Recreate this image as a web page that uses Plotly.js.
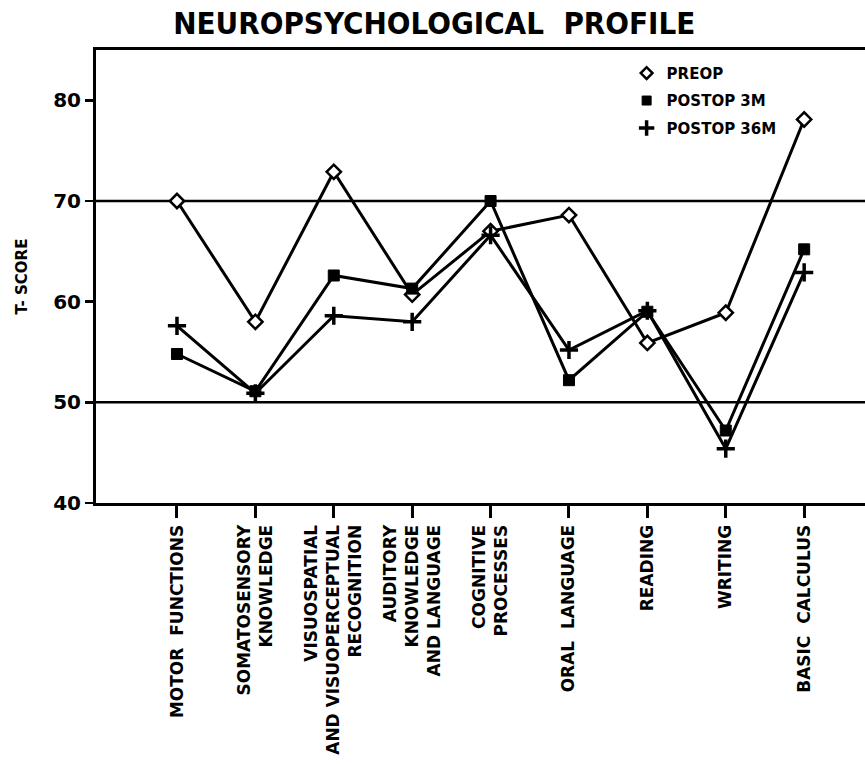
<!DOCTYPE html>
<html>
<head>
<meta charset="utf-8">
<script src="https://cdn.plot.ly/plotly-3.0.1.min.js"></script>
<style>html,body{margin:0;padding:0;background:#fff;}#chart{width:865px;height:765px;}</style>
</head>
<body>
<div id="chart"></div>
<script>
// ---- data ----
var categories = [
  "MOTOR  FUNCTIONS",
  "SOMATOSENSORY<br>KNOWLEDGE",
  "VISUOSPATIAL<br>AND VISUOPERCEPTUAL<br>RECOGNITION",
  "AUDITORY<br>KNOWLEDGE<br>AND LANGUAGE",
  "COGNITIVE<br>PROCESSES",
  "ORAL  LANGUAGE",
  "READING",
  "WRITING",
  "BASIC  CALCULUS"
];
var preop     = [70.0, 58.0, 72.9, 60.7, 67.0, 68.6, 55.9, 58.9, 78.1];
var postop3m  = [54.8, 51.1, 62.6, 61.3, 70.0, 52.2, 59.0, 47.2, 65.2];
var postop36m = [57.6, 50.9, 58.6, 58.0, 66.6, 55.2, 59.1, 45.4, 62.9];
var seriesNames = ["PREOP", "POSTOP 3M", "POSTOP 36M"];
var yTicks = [40, 50, 60, 70, 80];
var refLines = [50, 70];

var FONT = "DejaVu Sans, Liberation Sans, sans-serif";
var ink = "#000";

var styles = [
  {symbol: "diamond", color: "#fff", size: 11, lw: 2.5},
  {symbol: "square", color: ink, size: 11, lw: 1},
  {symbol: "cross-thin", color: ink, size: 13, lw: 3.5}
];
var series = [preop, postop3m, postop36m];

var traces = [];
series.forEach(function (vals, i) {
  traces.push({
    x: categories, y: vals, type: "scatter", mode: "lines+markers",
    showlegend: false, cliponaxis: false,
    line: {color: ink, width: 3},
    marker: {symbol: styles[i].symbol, size: styles[i].size, color: styles[i].color,
             line: {color: ink, width: styles[i].lw}}
  });
});
// legend-only marker entries
series.forEach(function (vals, i) {
  traces.push({
    x: [null], y: [null], type: "scatter", mode: "markers", name: seriesNames[i],
    legendgroup: "g" + i,
    marker: {symbol: styles[i].symbol, size: styles[i].size - 2, color: styles[i].color,
             line: {color: ink, width: styles[i].lw}}
  });
});

var shapes = refLines.map(function (v) {
  return {type: "line", xref: "paper", x0: 0, x1: 1, yref: "y", y0: v, y1: v,
          line: {color: ink, width: 2.5}, layer: "below"};
});

var layout = {
  width: 865, height: 765,
  margin: {l: 96, r: 0, t: 50, b: 262},
  paper_bgcolor: "#fff", plot_bgcolor: "#fff",
  title: {text: "<b>NEUROPSYCHOLOGICAL  PROFILE</b>",
          font: {family: "Liberation Sans Narrow, DejaVu Sans Condensed, sans-serif", size: 31, color: ink},
          x: 0.502, xanchor: "center", y: 0.970, yanchor: "middle"},
  showlegend: true,
  legend: {x: 0.69, y: 0.985, xanchor: "left", yanchor: "top",
           bgcolor: "rgba(0,0,0,0)", borderwidth: 0,
           font: {family: FONT, size: 15, color: ink, weight: "bold"},
           itemwidth: 30, tracegroupgap: 5},
  xaxis: {
    type: "category", range: [-1.033, 8.776],
    showgrid: false, zeroline: false,
    showline: true, linecolor: ink, linewidth: 3, mirror: true,
    ticks: "outside", ticklen: 12, tickwidth: 3, tickcolor: ink,
    tickangle: -90,
    tickfont: {family: FONT, size: 17, color: ink, weight: "bold"}
  },
  yaxis: {
    range: [40, 85], tickvals: yTicks,
    showgrid: false, zeroline: false,
    showline: true, linecolor: ink, linewidth: 3,
    ticks: "outside", ticklen: 8, tickwidth: 2.5, tickcolor: ink,
    tickfont: {family: FONT, size: 20, color: ink, weight: "bold"},
    title: {text: "<b>T- SCORE</b>", font: {family: FONT, size: 15, color: ink}, standoff: 22}
  },
  shapes: shapes
};

Plotly.newPlot("chart", traces, layout, {staticPlot: true, displayModeBar: false});
</script>
</body>
</html>
